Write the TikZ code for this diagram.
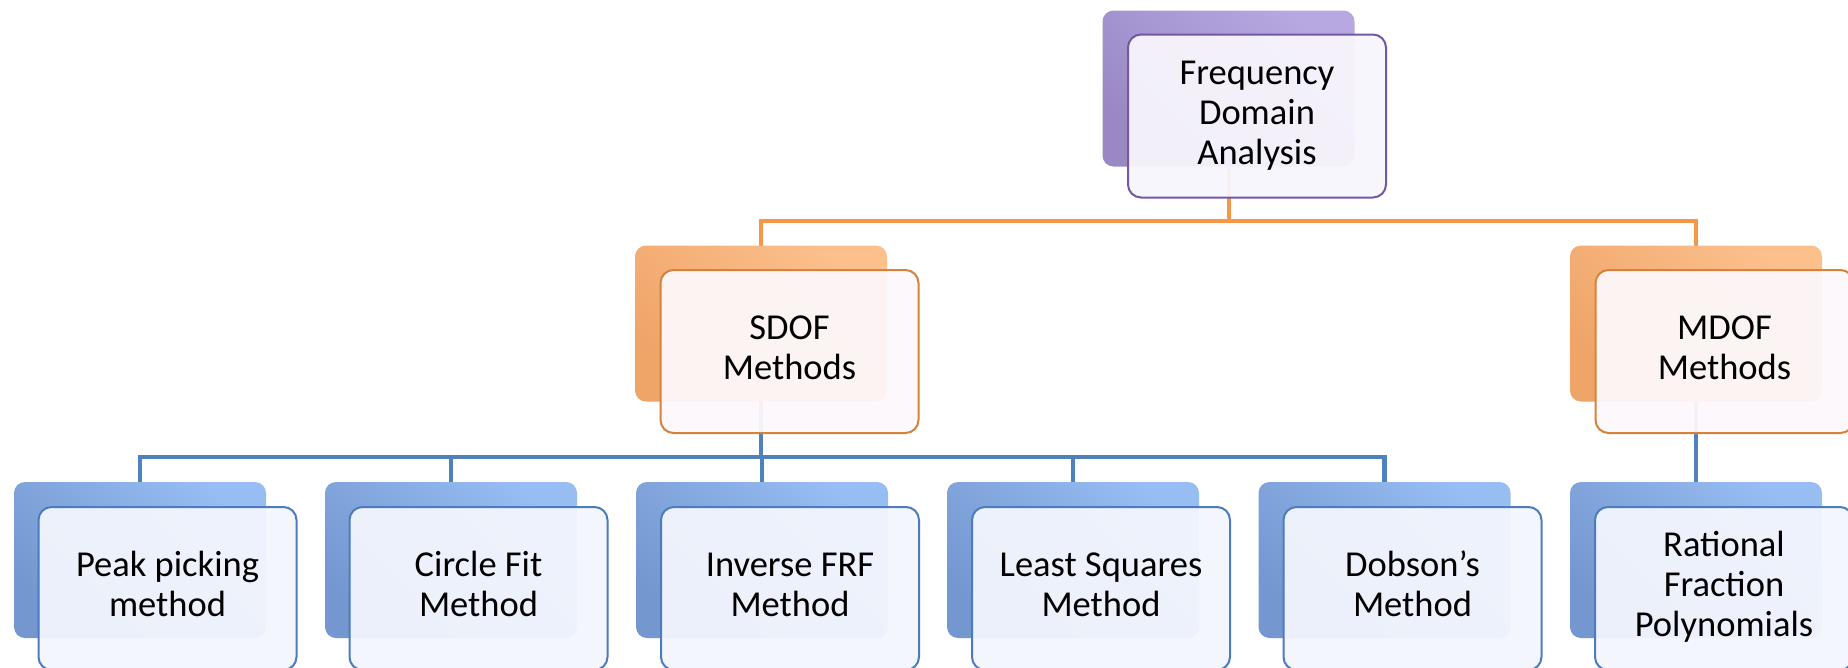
\documentclass[tikz,border=0pt]{standalone}
\usepackage{fontspec}
\setmainfont{Carlito}
\pgfdeclarelayer{paper}
\pgfdeclarelayer{lines}
\pgfdeclarelayer{backs}
\pgfsetlayers{paper,lines,backs,main}
\definecolor{purpleTop}{HTML}{B8A8E2}
\definecolor{purpleBot}{HTML}{9988C4}
\definecolor{purpleEdge}{HTML}{7259A3}
\definecolor{purpleFill}{HTML}{F8F6FD}
\definecolor{orTop}{HTML}{FCC08D}
\definecolor{orBot}{HTML}{EFA468}
\definecolor{orEdge}{HTML}{D6823A}
\definecolor{orFill}{HTML}{FDF8FB}
\definecolor{blTop}{HTML}{98BDF2}
\definecolor{blBot}{HTML}{7397CE}
\definecolor{blEdge}{HTML}{4D7BBE}
\definecolor{blFill}{HTML}{F3F6FD}
\definecolor{orLine}{HTML}{F79646}
\definecolor{blLine}{HTML}{4F81BD}
\tikzset{
  backbox/.style={rounded corners=11pt, minimum width=252pt, minimum height=156pt,
    top color=#1Top, bottom color=#1Bot, shading angle=-45, inner sep=0pt},
  frontbox/.style={rounded corners=13pt, minimum width=258pt, minimum height=163pt,
    draw=#1Edge, line width=2pt, fill=#1Fill, fill opacity=0.94, text opacity=1,
    align=center, inner sep=0pt, font=\fontsize{36.5}{40}\selectfont},
  orconn/.style={draw=orLine, line width=4pt},
  blconn/.style={draw=blLine, line width=4.5pt},
}
\begin{document}
\begin{tikzpicture}[x=1pt,y=1pt]
\useasboundingbox (0,0) rectangle (1848,-667);
\begin{pgfonlayer}{paper}
\fill[white] (0,0) rectangle (1848,-667);
\end{pgfonlayer}
% back boxes
\begin{pgfonlayer}{backs}
\node[backbox=purple] (fdaB) at (1228.5,-88.5) {};
\node[backbox=or] (sdofB) at (761,-323.5) {};
\node[backbox=or] (mdofB) at (1696,-323.5) {};
\node[backbox=bl] (c1B) at (140,-560) {};
\node[backbox=bl] (c2B) at (451,-560) {};
\node[backbox=bl] (c3B) at (762,-560) {};
\node[backbox=bl] (c4B) at (1073,-560) {};
\node[backbox=bl] (c5B) at (1384.5,-560) {};
\node[backbox=bl] (c6B) at (1696,-560) {};
\end{pgfonlayer}
% front boxes
\node[frontbox=purple] (fda) at (1257,-116) {\strut Frequency\\\strut Domain\\\strut Analysis};
\node[frontbox=or] (sdof) at (789.5,-351.5) {\strut SDOF\\\strut Methods};
\node[frontbox=or] (mdof) at (1724.5,-351.5) {\strut MDOF\\\strut Methods};
\node[frontbox=bl] (c1) at (167.5,-588.5) {\strut Peak picking\\\strut method};
\node[frontbox=bl] (c2) at (478.5,-588.5) {\strut Circle Fit\\\strut Method};
\node[frontbox=bl] (c3) at (790,-588.5) {\strut Inverse FRF\\\strut Method};
\node[frontbox=bl] (c4) at (1101,-588.5) {\strut Least Squares\\\strut Method};
\node[frontbox=bl] (c5) at (1412.5,-588.5) {\strut Dobson’s\\\strut Method};
\node[frontbox=bl] (c6) at (1724,-588.5) {\strut Rational\\\strut Fraction\\\strut Polynomials};
% connectors
\coordinate (busA) at (0,-221);
\coordinate (busB) at (0,-457);
\begin{pgfonlayer}{lines}
\draw[orconn] (fdaB.center) -- (fdaB.center |- busA) -| (sdofB.center);
\draw[orconn] (fdaB.center |- busA) -| (mdofB.center);
\draw[blconn] (sdofB.center) -- (sdofB.center |- busB) -| (c1B.center);
\draw[blconn] (sdofB.center |- busB) -| (c2B.center);
\draw[blconn] (sdofB.center |- busB) -| (c3B.center);
\draw[blconn] (sdofB.center |- busB) -| (c4B.center);
\draw[blconn] (sdofB.center |- busB) -| (c5B.center);
\draw[blconn] (mdofB.center) -- (c6B.center);
\end{pgfonlayer}
\end{tikzpicture}
\end{document}
